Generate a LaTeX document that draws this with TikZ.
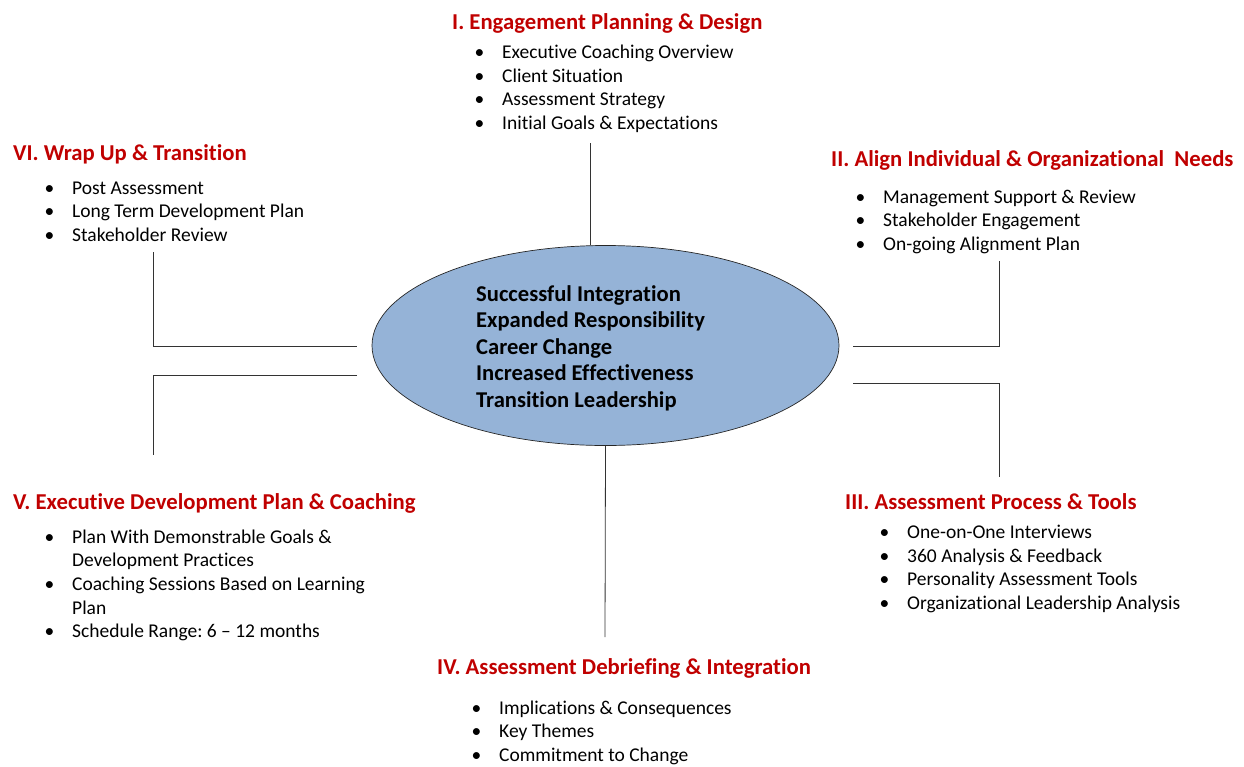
\documentclass[tikz,border=0pt]{standalone}
\usepackage{fontspec}
\setmainfont{Carlito}[Ligatures=NoCommon]
\frenchspacing
\usetikzlibrary{shapes.geometric}

\definecolor{headred}{HTML}{C00000}
\definecolor{hubblue}{HTML}{95B3D7}

% bullet followed by a fixed indent
\newcommand{\itm}{\makebox[28pt][l]{\hspace{0.5pt}\textbullet}}
\newcommand{\cont}{\hspace*{28pt}}

\tikzset{
  head/.style={anchor=base west, inner sep=0pt, text=headred,
    font=\fontsize{22.7}{27}\selectfont\bfseries},
  % lists are placed by the baseline of their last line
  items/.style={anchor=base west, inner sep=0pt, align=left,
    font=\fontsize{19.5}{23.7}\selectfont},
  link/.style={draw=black!80, line width=0.8pt},
}

\begin{document}
\begin{tikzpicture}[x=1pt,y=-1pt]
    \useasboundingbox (0,0) rectangle (1244,766);

    % Centre ellipse
    \node[ellipse, draw=black!85, fill=hubblue, line width=0.7pt, inner sep=0pt,
          minimum width=467pt, minimum height=200pt] (hub) at (605.5,345.5) {};
    \node[anchor=base west, inner sep=0pt, align=left,
          font=\fontsize{22.6}{26.5}\selectfont\bfseries] (goals) at (476,407.3)
        {Successful Integration\\ Expanded Responsibility\\ Career Change\\
         Increased Effectiveness\\ Transition Leadership};

    % I
    \node[head] (h1) at (452,29.3) {I. Engagement Planning \& Design};
    \node[items] (l1) at (474,129.6) {\itm Executive Coaching Overview\\ \itm Client Situation\\
        \itm Assessment Strategy\\ \itm Initial Goals \& Expectations};

    % II
    \node[head] (h2) at (831,166.5) {II. Align Individual \& Organizational\ \ Needs};
    \node[items] (l2) at (855,250.4) {\itm Management Support \& Review\\ \itm Stakeholder Engagement\\
        \itm On-going Alignment Plan};

    % III
    \node[head] (h3) at (845,509) {III. Assessment Process \& Tools};
    \node[items] (l3) at (879,609.6) {\itm One-on-One Interviews\\ \itm 360 Analysis \& Feedback\\
        \itm Personality Assessment Tools\\ \itm Organizational Leadership Analysis};

    % IV
    \node[head] (h4) at (437,674) {IV. Assessment Debriefing \& Integration};
    \node[items] (l4) at (471,761.4) {\itm Implications \& Consequences\\ \itm Key Themes\\
        \itm Commitment to Change};

    % V
    \node[head] (h5) at (13,509.5) {V. Executive Development Plan \& Coaching};
    \node[items] (l5) at (44,637.8) {\itm Plan With Demonstrable Goals \&\\ \cont Development Practices\\
        \itm Coaching Sessions Based on Learning\\ \cont Plan\\ \itm Schedule Range: 6 -- 12 months};

    % VI
    \node[head] (h6) at (13,160) {VI. Wrap Up \& Transition};
    \node[items] (l6) at (44,241.4) {\itm Post Assessment\\ \itm Long Term Development Plan\\
        \itm Stakeholder Review};

    % connectors
    \coordinate (t1) at (590,143);
    \coordinate (t4) at (605,637);
    \coordinate (t6a) at (153,252);  \coordinate (t6b) at (357,346);
    \coordinate (t5a) at (357,375);  \coordinate (t5b) at (153,455);
    \coordinate (t2a) at (853,346);  \coordinate (t2b) at (999,261);
    \coordinate (t3a) at (853,383);  \coordinate (t3b) at (999,477);

    \draw[link] (t1) -- (t1 |- hub.north);
    \draw[link] (hub.south) -- (t4);
    \draw[link] (t6a) |- (t6b);
    \draw[link] (t5a) -| (t5b);
    \draw[link] (t2a) -| (t2b);
    \draw[link] (t3a) -| (t3b);
\end{tikzpicture}
\end{document}
